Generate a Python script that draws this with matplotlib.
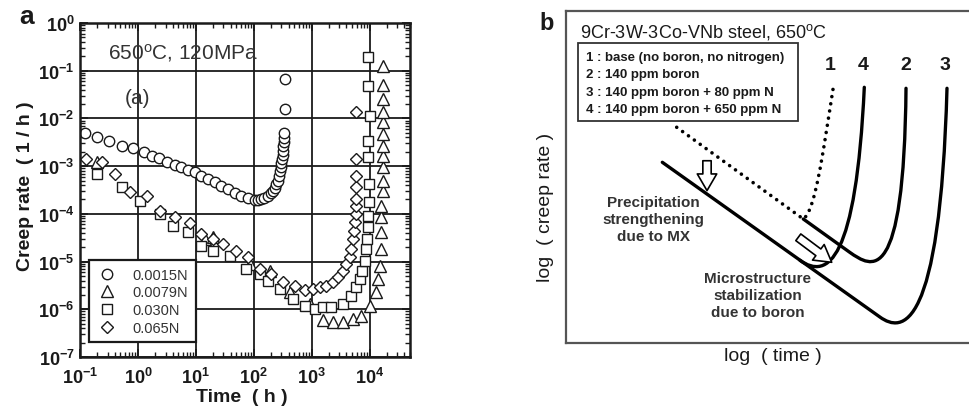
import numpy as np
import matplotlib.pyplot as plt
import matplotlib.patches as mpatches
from matplotlib.path import Path
from matplotlib.ticker import LogLocator, NullFormatter

plt.rcParams['font.family'] = ['Liberation Sans', 'DejaVu Sans']
plt.rcParams['mathtext.fontset'] = 'custom'
plt.rcParams['mathtext.rm'] = 'Liberation Sans'
plt.rcParams['mathtext.bf'] = 'Liberation Sans:bold'
plt.rcParams['mathtext.it'] = 'Liberation Sans:italic'

# ---------------- panel a data
alloys = ['0.0015N', '0.0079N', '0.030N', '0.065N']

t_0015 = [0.122, 0.194, 0.32, 0.524, 0.83, 1.27, 1.72, 2.33, 3.2, 4.34, 5.66, 7.36,
          9.6, 12.5, 16.3, 21.3, 27.7, 36.1, 47, 61.4, 79.8, 104, 120, 136, 150, 177,
          195, 215, 230, 246, 260, 273, 285, 292, 300, 308, 315, 320, 325, 329, 331,
          333, 342, 342]
r_0015 = [4.94e-3, 4.02e-3, 3.41e-3, 2.68e-3, 2.36e-3, 1.95e-3, 1.65e-3, 1.46e-3,
          1.24e-3, 1.05e-3, 9.4e-4, 8.4e-4, 7.4e-4, 6.3e-4, 5.4e-4, 4.6e-4, 3.9e-4,
          3.3e-4, 2.73e-4, 2.39e-4, 2.11e-4, 1.98e-4, 1.95e-4, 2.04e-4, 2.1e-4,
          2.39e-4, 2.7e-4, 3.05e-4, 3.5e-4, 4.2e-4, 5.0e-4, 6.3e-4, 7.8e-4, 9.4e-4,
          1.15e-3, 1.41e-3, 1.7e-3, 2.1e-3, 2.6e-3, 3.15e-3, 3.9e-3, 4.94e-3,
          1.57e-2, 6.7e-2]

t_0079 = [0.194, 14.3, 19.9, 85.3, 189, 418, 925, 1568, 2330, 3465, 5150, 7190,
          10000, 13060, 13900, 14870, 15900, 15900, 15900, 15900, 17420, 17420,
          17420, 17420, 17420, 17420, 17420, 17420, 17420, 17420, 17420]
r_0079 = [1.2e-3, 2.97e-5, 3.21e-5, 8.87e-6, 6.32e-6, 2.3e-6, 1.29e-6, 6.03e-7,
          5.31e-7, 5.47e-7, 6.23e-7, 7.31e-7, 1.18e-6, 2.26e-6, 4.3e-6, 8.17e-6,
          1.83e-5, 4.09e-5, 8.45e-5, 1.48e-4, 3.05e-4, 4.94e-4, 9.4e-4, 1.65e-3,
          2.68e-3, 4.71e-3, 8.28e-3, 1.34e-2, 2.55e-2, 5.01e-2, 0.127]

t_030 = [0.194, 0.524, 1.08, 2.39, 4.06, 7.36, 12.5, 19.9, 38.5, 74.8, 127, 177, 281,
         476, 757, 1127, 1568, 2188, 3465, 4833, 5900, 6730, 7490, 8200, 8780, 9130,
         9350, 9350, 9610, 9610, 9350, 9350, 10000, 9350, 9350]
r_030 = [6.83e-4, 3.6e-4, 1.88e-4, 9.9e-5, 5.63e-5, 4.09e-5, 2.14e-5, 1.68e-5,
         1.32e-5, 6.96e-6, 5.47e-6, 3.96e-6, 2.65e-6, 1.64e-6, 1.18e-6, 1.01e-6,
         1.10e-6, 1.10e-6, 1.29e-6, 1.92e-6, 2.88e-6, 4.3e-6, 6.41e-6, 1.04e-5,
         1.83e-5, 2.97e-5, 5.21e-5, 9.12e-5, 1.74e-4, 4.2e-4, 1.53e-3, 3.41e-3,
         1.14e-2, 4.85e-2, 0.191]

t_065 = [0.127, 0.237, 0.401, 0.727, 1.41, 2.39, 4.35, 7.88, 12.5, 19.9, 29.6, 50.3,
         79.8, 127, 202, 320, 509, 757, 1052, 1374, 1792, 2330, 2840, 3465, 3964,
         4520, 4833, 5150, 5300, 5510, 5740, 5900, 5740, 5740, 5740, 5740, 5740]
r_065 = [1.41e-3, 1.20e-3, 6.83e-4, 2.82e-4, 2.39e-4, 1.16e-4, 8.45e-5, 6.42e-5,
         3.77e-5, 2.97e-5, 2.33e-5, 1.68e-5, 1.22e-5, 6.96e-6, 5.47e-6, 3.66e-6,
         3.02e-6, 2.56e-6, 2.65e-6, 2.88e-6, 3.02e-6, 3.66e-6, 4.67e-6, 6.41e-6,
         8.87e-6, 1.22e-5, 1.83e-5, 2.97e-5, 4.43e-5, 6.64e-5, 9.9e-5, 1.48e-4,
         2.04e-4, 3.6e-4, 6.3e-4, 1.41e-3, 1.34e-2]

x_exp = [-1, 0, 1, 2, 3, 4]
y_exp = [0, -1, -2, -3, -4, -5, -6, -7]

# ---------------- panel b (schematic, normalised log time / log rate)
steels = ['1 : base (no boron, no nitrogen)', '2 : 140 ppm boron',
          '3 : 140 ppm boron + 80 ppm N', '4 : 140 ppm boron + 650 ppm N']
curve_ids = ['1', '4', '2', '3']
curve_id_x = [0.655, 0.737, 0.844, 0.940]

# line start, line end, two bezier controls, rupture end
c1_x = [0.2747, 0.5888, 0.6179, 0.6352, 0.6633]
c1_y = [0.6497, 0.3735, 0.3976, 0.5542, 0.7702]
c2_x = [0.5888, 0.7037, 0.7593, 0.8387, 0.8437]
c2_y = [0.3735, 0.2735, 0.2265, 0.1627, 0.7672]
c3_x = [0.2390, 0.7792, 0.8337, 0.9280, 0.9454]
c3_y = [0.5443, 0.0780, 0.0310, 0.0271, 0.7672]
c4_x = [0.5806, 0.6501, 0.7196, 0.7402]
c4_y = [0.2491, 0.1892, 0.2470, 0.7702]

ink = '#1a1a1a'

fig = plt.figure(figsize=(9.69, 4.10), dpi=100)

# ======================= panel a
ax = fig.add_axes([80 / 969, 52 / 410, 330 / 969, 334 / 410])
mk = dict(linestyle='none', mfc='white', mec=ink, mew=1.0)
ax.plot(t_0015, r_0015, marker='o', ms=7.5, label=alloys[0], **mk)
ax.plot(t_0079, r_0079, marker='^', ms=8.5, label=alloys[1], **mk)
ax.plot(t_030, r_030, marker='s', ms=7.5, label=alloys[2], **mk)
ax.plot(t_065, r_065, marker='D', ms=6.5, label=alloys[3], **mk)

ax.set_xscale('log')
ax.set_yscale('log')
ax.set_xlim(0.1, 5e4)
ax.set_ylim(1e-7, 1)
ax.set_xticks([10.0 ** e for e in x_exp])
ax.set_xticklabels([r'$\mathbf{10^{%d}}$' % e for e in x_exp], fontsize=13)
ax.set_yticks([10.0 ** e for e in y_exp])
ax.set_yticklabels([r'$\mathbf{10^{%d}}$' % e for e in y_exp], fontsize=13)
ax.xaxis.set_minor_locator(LogLocator(base=10, subs=np.arange(2, 10), numticks=100))
ax.yaxis.set_minor_locator(LogLocator(base=10, subs=np.arange(2, 10), numticks=100))
ax.xaxis.set_minor_formatter(NullFormatter())
ax.yaxis.set_minor_formatter(NullFormatter())
ax.tick_params(which='both', direction='in', top=True, right=True, colors=ink)
ax.tick_params(which='major', length=6, width=1.3, pad=4)
ax.tick_params(axis='x', which='major', pad=7)
ax.tick_params(which='minor', length=3.5, width=1.0)
ax.grid(True, which='major', color=ink, lw=1.3)
ax.set_axisbelow(True)
for s in ax.spines.values():
    s.set_linewidth(1.8)
    s.set_color(ink)

ax.text(0.085, 0.913, '650$^{\\rm o}$C, 120MPa', transform=ax.transAxes,
        fontsize=15, color='#333333', va='center', ha='left')
ax.text(0.173, 0.778, '(a)', transform=ax.transAxes, fontsize=15,
        color='#333333', va='center', ha='center')

leg = ax.legend(loc='lower left', bbox_to_anchor=(0.027, 0.045), borderaxespad=0,
                frameon=True, fancybox=False, edgecolor=ink, framealpha=1,
                fontsize=10.5, handlelength=1.5, handletextpad=1.0,
                labelspacing=0.25, borderpad=0.5)
leg.get_frame().set_linewidth(1.6)
for txt in leg.get_texts():
    txt.set_color('#333333')

fig.text(0.0258, 0.546, 'Creep rate  ( 1 / h )', rotation=90, fontsize=14,
         fontweight='bold', color=ink, ha='center', va='center')
fig.text(0.2497, 0.030, 'Time  ( h )', fontsize=14, fontweight='bold',
         color=ink, ha='center', va='center')
fig.text(27 / 969, 1 - 17 / 410, 'a', fontsize=19, fontweight='bold',
         color=ink, ha='center', va='center')

# ======================= panel b
bx = fig.add_axes([566 / 969, 66 / 410, 403 / 969, 332 / 410])
bx.set_xlim(0, 1)
bx.set_ylim(0, 1)
bx.set_xticks([])
bx.set_yticks([])
bx.spines['right'].set_visible(False)
for side in ['left', 'top', 'bottom']:
    bx.spines[side].set_color('#555555')
    bx.spines[side].set_linewidth(1.6)

seg = [Path.MOVETO, Path.LINETO, Path.CURVE4, Path.CURVE4, Path.CURVE4]
for cx, cy in [(c2_x, c2_y), (c3_x, c3_y)]:
    p = mpatches.PathPatch(Path(np.column_stack([cx, cy]), seg), fill=False,
                           ec='black', lw=2.4, capstyle='round')
    bx.add_patch(p)
p4 = mpatches.PathPatch(Path(np.column_stack([c4_x, c4_y]),
                             [Path.MOVETO, Path.CURVE4, Path.CURVE4, Path.CURVE4]),
                        fill=False, ec='black', lw=2.4, capstyle='round')
bx.add_patch(p4)
p1 = mpatches.PathPatch(Path(np.column_stack([c1_x, c1_y]), seg), fill=False,
                        ec='black', lw=2.6, linestyle=(0, (0.01, 2.0)),
                        capstyle='round')
bx.add_patch(p1)

arrow_style = 'simple,head_length=1.2,head_width=1.4,tail_width=0.6'
for (xa, ya), (xb, yb) in [((0.3499, 0.549), (0.3499, 0.459)),
                           ((0.5764, 0.3184), (0.6593, 0.2431))]:
    bx.add_patch(mpatches.FancyArrowPatch((xa, ya), (xb, yb), arrowstyle=arrow_style,
                                          mutation_scale=10, fc='white', ec='black',
                                          lw=1.2, shrinkA=0, shrinkB=0))

bx.text(0.0347, 0.94, '9Cr-3W-3Co-VNb steel, 650$^{\\rm o}$C', fontsize=13,
        color=ink, ha='left', va='center')
bx.add_patch(mpatches.Rectangle((0.0298, 0.669), 0.5459, 0.235, fill=False,
                                ec='#333333', lw=1.3))
for i, s in enumerate(steels):
    bx.text(0.0496, 0.861 - 0.052 * i, s, fontsize=9.5, fontweight='bold',
            color=ink, ha='left', va='center')
for cid, cxp in zip(curve_ids, curve_id_x):
    bx.text(cxp, 0.840, cid, fontsize=14, fontweight='bold', color=ink,
            ha='center', va='center')

bx.text(0.216, 0.373, 'Precipitation\nstrengthening\ndue to MX', fontsize=11,
        fontweight='bold', color='#333333', ha='center', va='center',
        linespacing=1.3)
bx.text(0.476, 0.145, 'Microstructure\nstabilization\ndue to boron', fontsize=11,
        fontweight='bold', color='#333333', ha='center', va='center',
        linespacing=1.3)

fig.text(545 / 969, 0.495, 'log  ( creep rate )', rotation=90, fontsize=14,
         color=ink, ha='center', va='center')
fig.text(773 / 969, 1 - 357 / 410, 'log  ( time )', fontsize=14, color=ink,
         ha='center', va='center')
fig.text(547 / 969, 1 - 24 / 410, 'b', fontsize=17, fontweight='bold',
         color=ink, ha='center', va='center')

fig.savefig('out.png', dpi=100)
